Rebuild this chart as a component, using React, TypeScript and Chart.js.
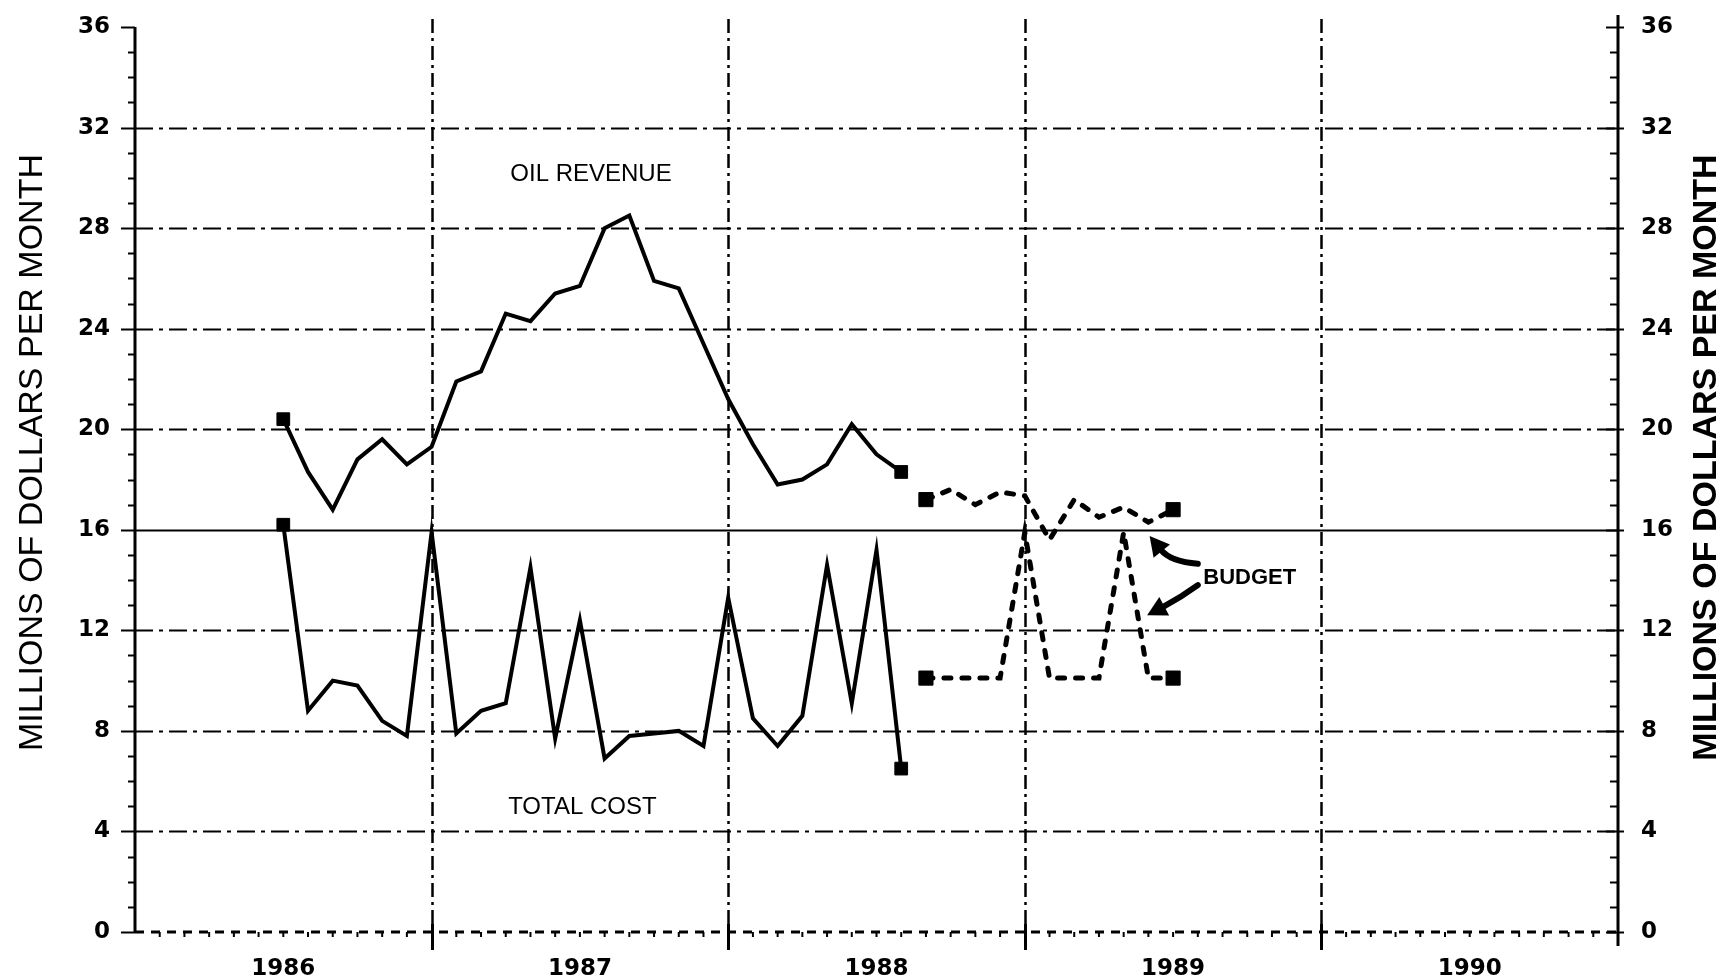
import React, { useEffect, useRef } from "react";
import { Chart, registerables } from "chart.js";

Chart.register(...registerables);

// ---- Data (months counted from Jan 1986 = 0) ----
const actualMonths = [6, 7, 8, 9, 10, 11, 12, 13, 14, 15, 16, 17, 18, 19, 20, 21, 22, 23, 24, 25, 26, 27, 28, 29, 30, 31];
const oilRevenue = [20.4, 18.3, 16.8, 18.8, 19.6, 18.6, 19.3, 21.9, 22.3, 24.6, 24.3, 25.4, 25.7, 28.0, 28.5, 25.9, 25.6, 23.4, 21.2, 19.4, 17.8, 18.0, 18.6, 20.2, 19.0, 18.3];
const totalCost = [16.2, 8.8, 10.0, 9.8, 8.4, 7.8, 15.9, 7.9, 8.8, 9.1, 14.5, 7.7, 12.4, 6.9, 7.8, 7.9, 8.0, 7.4, 13.3, 8.5, 7.4, 8.6, 14.6, 9.1, 15.2, 6.5];

const budgetMonths = [32, 33, 34, 35, 36, 37, 38, 39, 40, 41, 42];
const budgetRevenue = [17.2, 17.6, 17.0, 17.5, 17.35, 15.6, 17.2, 16.5, 16.9, 16.3, 16.8];
const budgetCost = [10.1, 10.1, 10.1, 10.1, 15.9, 10.1, 10.1, 10.1, 15.9, 10.1, 10.1];

const yearLabels = ["1986", "1987", "1988", "1989", "1990"];
const yearLabelMonths = [6, 18, 30, 42, 54];
const yearBoundaryMonths = [12, 24, 36, 48];
const yTickValues = [0, 4, 8, 12, 16, 20, 24, 28, 32, 36];
const gridValues = [4, 8, 12, 16, 20, 24, 28, 32];

const axisTitle = "MILLIONS OF DOLLARS PER MONTH";

// in-chart text labels, placed in data units (month, value)
const seriesNotes = [
  { text: "OIL REVENUE", month: 18.45, value: 30.15, bold: false, size: 24 },
  { text: "TOTAL COST", month: 18.1, value: 4.97, bold: false, size: 24 },
  { text: "BUDGET", month: 45.1, value: 14.1, bold: true, size: 22 },
];
// curved arrows from the BUDGET note: tail, control, tip (month, value)
const budgetArrows = [
  { from: [43.0, 14.65], ctrl: [41.9, 14.72], to: [41.05, 15.75] },
  { from: [43.0, 13.8], ctrl: [42.3, 13.3], to: [40.95, 12.6] },
];

const pts = (xs: number[], ys: number[]) => xs.map((m, i) => ({ x: m, y: ys[i] }));
const endsOnly = (r: number) => (ctx: any) =>
  ctx.dataIndex === 0 || ctx.dataIndex === ctx.dataset.data.length - 1 ? r : 0;

const paperPlugin = {
  id: "paperPlugin",
  beforeDatasetsDraw(chart: any) {
    const { ctx, chartArea, scales } = chart;
    const { left, right, top, bottom } = chartArea;
    const x = scales.x;
    const y = scales.y;
    ctx.save();
    ctx.strokeStyle = "#000";
    ctx.lineCap = "butt";
    // horizontal grid
    gridValues.forEach((v) => {
      const py = Math.round(y.getPixelForValue(v)) + 0.5;
      ctx.lineWidth = 2;
      ctx.setLineDash(v === 16 ? [] : [18, 6, 4, 6]);
      ctx.beginPath();
      ctx.moveTo(left, py);
      ctx.lineTo(right, py);
      ctx.stroke();
    });
    // vertical grid at year boundaries
    yearBoundaryMonths.forEach((m) => {
      const px = Math.round(x.getPixelForValue(m)) + 0.5;
      ctx.lineWidth = 2.5;
      ctx.setLineDash([14, 5, 3, 5]);
      ctx.beginPath();
      ctx.moveTo(px, top - 8);
      ctx.lineTo(px, bottom);
      ctx.stroke();
      ctx.setLineDash([]);
      ctx.lineWidth = 3;
      ctx.beginPath();
      ctx.moveTo(px, bottom - 8);
      ctx.lineTo(px, bottom + 18);
      ctx.stroke();
    });
    // bottom axis (dotted/dashed in the original)
    ctx.lineWidth = 3;
    ctx.setLineDash([9, 7]);
    ctx.beginPath();
    ctx.moveTo(left, bottom);
    ctx.lineTo(right, bottom);
    ctx.stroke();
    ctx.setLineDash([]);
    // monthly small ticks
    ctx.lineWidth = 2;
    for (let m = 1; m < 60; m++) {
      if (m % 12 === 0) continue;
      const px = x.getPixelForValue(m);
      ctx.beginPath();
      ctx.moveTo(px, bottom);
      ctx.lineTo(px, bottom + 5);
      ctx.stroke();
    }
    // left and right axis lines
    ctx.lineWidth = 3;
    ctx.beginPath();
    ctx.moveTo(left, top);
    ctx.lineTo(left, bottom);
    ctx.stroke();
    ctx.beginPath();
    ctx.moveTo(right, top - 12);
    ctx.lineTo(right, bottom + 14);
    ctx.stroke();
    // y ticks (minor every 1, major every 4)
    ctx.lineWidth = 2;
    for (let v = 0; v <= 36; v++) {
      const py = Math.round(y.getPixelForValue(v)) + 0.5;
      const major = v % 4 === 0;
      ctx.beginPath();
      ctx.moveTo(left - (major ? 14 : 7), py);
      ctx.lineTo(left, py);
      ctx.stroke();
      ctx.beginPath();
      ctx.moveTo(right - (major ? 12 : 8), py);
      ctx.lineTo(right + (major ? 6 : 0), py);
      ctx.stroke();
    }
    ctx.restore();
  },
  afterDatasetsDraw(chart: any) {
    const { ctx, scales, chartArea } = chart;
    const x = scales.x;
    const y = scales.y;
    ctx.save();
    ctx.fillStyle = "#000";
    ctx.strokeStyle = "#000";
    ctx.textAlign = "center";
    ctx.textBaseline = "middle";
    seriesNotes.forEach((n) => {
      ctx.font = `${n.bold ? "bold " : ""}${n.size}px "Liberation Sans", Arial, sans-serif`;
      ctx.fillText(n.text, x.getPixelForValue(n.month), y.getPixelForValue(n.value));
    });
    // arrows
    budgetArrows.forEach((a) => {
      const fx = x.getPixelForValue(a.from[0]);
      const fy = y.getPixelForValue(a.from[1]);
      const cx = x.getPixelForValue(a.ctrl[0]);
      const cy = y.getPixelForValue(a.ctrl[1]);
      const tx = x.getPixelForValue(a.to[0]);
      const ty = y.getPixelForValue(a.to[1]);
      const ang = Math.atan2(ty - cy, tx - cx);
      const headLen = 22;
      const bx = tx - Math.cos(ang) * headLen * 0.8;
      const by = ty - Math.sin(ang) * headLen * 0.8;
      ctx.lineWidth = 6;
      ctx.lineCap = "round";
      ctx.beginPath();
      ctx.moveTo(fx, fy);
      ctx.quadraticCurveTo(cx, cy, bx, by);
      ctx.stroke();
      ctx.beginPath();
      ctx.moveTo(tx, ty);
      ctx.lineTo(tx - Math.cos(ang - 0.5) * headLen, ty - Math.sin(ang - 0.5) * headLen);
      ctx.lineTo(tx - Math.cos(ang + 0.5) * headLen, ty - Math.sin(ang + 0.5) * headLen);
      ctx.closePath();
      ctx.fill();
    });
    // axis titles (both read bottom-to-top)
    const midY = (chartArea.top + chartArea.bottom) / 2;
    const drawRot = (text: string, cx: number, cy: number, font: string) => {
      ctx.save();
      ctx.translate(cx, cy);
      ctx.rotate(-Math.PI / 2);
      ctx.font = font;
      ctx.textAlign = "center";
      ctx.textBaseline = "middle";
      ctx.fillText(text, 0, 0);
      ctx.restore();
    };
    drawRot(axisTitle, 33, midY - 27, '34px "Liberation Sans", Arial, sans-serif');
    drawRot(axisTitle, chart.width - 22, midY - 22, 'bold 34px "Liberation Sans", Arial, sans-serif');
    ctx.restore();
  },
};

export default function App() {
  const canvasRef = useRef<HTMLCanvasElement | null>(null);

  useEffect(() => {
    const canvas = canvasRef.current;
    if (!canvas) return;
    const tickFont = { family: '"DejaVu Sans", sans-serif', size: 23, weight: "bold" as const };
    const lineSet = {
      borderColor: "#000",
      pointStyle: "rect" as const,
      pointBackgroundColor: "#000",
      pointBorderColor: "#000",
      pointBorderWidth: 1,
      tension: 0,
      yAxisID: "y",
    };
    const chart = new Chart(canvas, {
      type: "line",
      data: {
        datasets: [
          { ...lineSet, label: "Oil revenue", data: pts(actualMonths, oilRevenue), borderWidth: 4, borderJoinStyle: "miter", pointRadius: endsOnly(9) },
          { ...lineSet, label: "Total cost", data: pts(actualMonths, totalCost), borderWidth: 4, borderJoinStyle: "miter", pointRadius: endsOnly(9) },
          { ...lineSet, label: "Budget revenue", data: pts(budgetMonths, budgetRevenue), borderWidth: 5, borderDash: [7, 11], borderCapStyle: "round", pointRadius: endsOnly(10) },
          { ...lineSet, label: "Budget cost", data: pts(budgetMonths, budgetCost), borderWidth: 5, borderDash: [7, 11], borderCapStyle: "round", pointRadius: endsOnly(10) },
        ],
      },
      options: {
        responsive: false,
        animation: false,
        devicePixelRatio: 1,
        layout: { padding: { top: 27, left: 0, right: 0, bottom: 0 } },
        plugins: { legend: { display: false }, tooltip: { enabled: false } },
        scales: {
          x: {
            type: "linear",
            position: "bottom",
            min: 0,
            max: 60,
            afterBuildTicks: (s: any) => {
              s.ticks = yearLabelMonths.map((v) => ({ value: v }));
            },
            ticks: {
              autoSkip: false,
              maxRotation: 0,
              padding: 23,
              color: "#000",
              font: tickFont,
              callback: (v: any) => {
                const i = yearLabelMonths.indexOf(Number(v));
                return i >= 0 ? yearLabels[i] : "";
              },
            },
            grid: { display: false, drawTicks: false },
            border: { display: false },
            afterFit: (s: any) => {
              s.height = 46;
            },
          },
          y: {
            type: "linear",
            position: "left",
            min: 0,
            max: 36,
            afterBuildTicks: (s: any) => {
              s.ticks = yTickValues.map((v) => ({ value: v }));
            },
            ticks: { padding: 10, color: "#000", font: tickFont },
            grid: { display: false, drawTicks: true, tickLength: 15 },
            border: { display: false },
            afterFit: (s: any) => {
              s.width = 135;
            },
          },
          y2: {
            type: "linear",
            position: "right",
            min: 0,
            max: 36,
            afterBuildTicks: (s: any) => {
              s.ticks = yTickValues.map((v) => ({ value: v }));
            },
            ticks: { padding: 10, color: "#000", font: tickFont },
            grid: { display: false, drawTicks: true, tickLength: 13 },
            border: { display: false },
            afterFit: (s: any) => {
              s.width = 111;
            },
          },
        },
      },
      plugins: [paperPlugin],
    });
    return () => chart.destroy();
  }, []);

  return (
    <div style={{ position: "absolute", left: 0, top: 0, width: 1729, height: 978, background: "#fff" }}>
      <canvas ref={canvasRef} width={1729} height={978} style={{ display: "block" }} />
    </div>
  );
}
